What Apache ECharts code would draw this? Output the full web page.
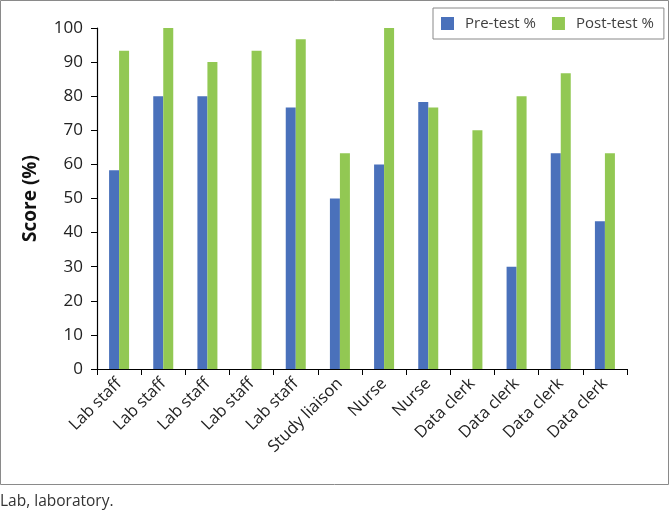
<!DOCTYPE html>
<html>
<head>
<meta charset="utf-8">
<script src="https://cdn.jsdelivr.net/npm/echarts@6/dist/echarts.min.js"></script>
<style>html,body{margin:0;padding:0;background:#fff}#c{width:670px;height:514px}</style>
</head>
<body>
<div id="c"></div>
<script>
var categories = ["Lab staff","Lab staff","Lab staff","Lab staff","Lab staff","Study liaison","Nurse","Nurse","Data clerk","Data clerk","Data clerk","Data clerk"];
var preTest = [58.3, 80, 80, 0, 76.7, 50, 60, 78.3, 0, 30, 63.3, 43.3];
var postTest = [93.3, 100, 90, 93.3, 96.7, 63.3, 100, 76.7, 70, 80, 86.7, 63.3];
var yTicks = [0,10,20,30,40,50,60,70,80,90,100];

var font = "'Open Sans', sans-serif";
var chart = echarts.init(document.getElementById('c'), null, {renderer:'canvas'});
chart.setOption({
  animation: false,
  backgroundColor: '#fff',
  graphic: [
    {type:'rect', shape:{x:0.5,y:0.5,width:668,height:484}, style:{fill:'none', stroke:'#8a8a8a', lineWidth:1}, z:-1},
    {type:'text', left:0, top:494, style:{text:'Lab, laboratory.', font:"15.5px 'Open Sans', sans-serif", fill:'#333'}}
  ],
  legend: {
    left: 433, top: 8,
    data: ['Pre-test %','Post-test %'],
    icon: 'rect', itemWidth: 13, itemHeight: 13, itemGap: 16,
    borderColor: '#888', borderWidth: 1, borderRadius: 0,
    padding: [8, 10, 8, 8],
    textStyle: {fontFamily: font, fontSize: 15, color: '#404040', padding: [0, 0, 0, 6]}
  },
  grid: {left: 97, right: 43, top: 28, bottom: 145, containLabel: false},
  xAxis: {
    type: 'category', data: categories,
    axisLine: {lineStyle:{color:'#000', width:1.2}},
    axisTick: {show:true, alignWithLabel:false, length:6, lineStyle:{color:'#000'}},
    axisLabel: {rotate: 45, interval: 0, fontFamily: font, fontSize: 16.5, color: '#222', margin: 12}
  },
  yAxis: {
    type: 'value', min: yTicks[0], max: yTicks[yTicks.length-1], interval: 10,
    name: 'Score (%)', nameLocation: 'middle', nameGap: 57,
    nameTextStyle: {fontFamily: font, fontSize: 19, fontWeight: 'bold', color: '#111'},
    axisLine: {show:true, lineStyle:{color:'#000', width:1.2}},
    axisTick: {show:true, length:6, lineStyle:{color:'#000'}},
    splitLine: {show:false},
    axisLabel: {fontFamily: font, fontSize: 17, color: '#222', margin: 14}
  },
  series: [
    {name:'Pre-test %', type:'bar', data: preTest, barWidth: 10, barGap: '0%', itemStyle:{color:'#4a71bb'}},
    {name:'Post-test %', type:'bar', data: postTest, barWidth: 10, barGap: '0%', itemStyle:{color:'#92c853'}}
  ]
});
</script>
</body>
</html>
